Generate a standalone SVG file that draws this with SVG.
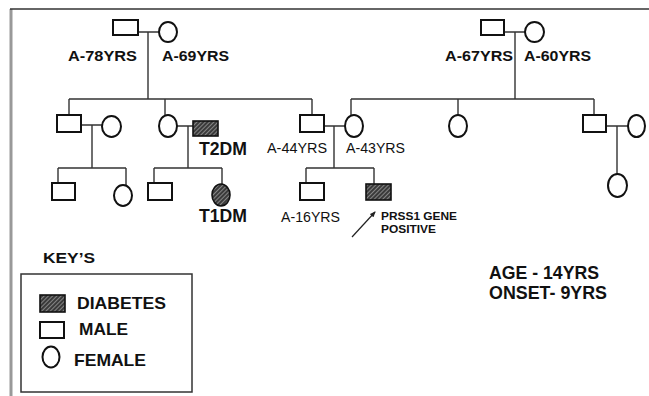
<svg xmlns="http://www.w3.org/2000/svg" width="649" height="396" viewBox="0 0 649 396">
<style>
.m{fill:#fff;stroke:#111;stroke-width:2}
.h{fill:url(#hatch);stroke:#111;stroke-width:1.6}
.c{fill:none;stroke:#333;stroke-width:1.4}
.b{font-family:"Liberation Sans",Arial,sans-serif;font-weight:bold;fill:#111}
.r{font-family:"Liberation Sans",Arial,sans-serif;fill:#111}
</style>
<defs>
<pattern id="hatch" patternUnits="userSpaceOnUse" width="3" height="3" patternTransform="rotate(45)">
<rect width="3" height="3" fill="#3a3a3a"/>
<line x1="0" y1="0" x2="0" y2="3" stroke="#cfcfcf" stroke-width="1"/>
</pattern>
<marker id="arr" markerWidth="6" markerHeight="6" refX="5" refY="3" orient="auto" markerUnits="userSpaceOnUse">
<path d="M0,0.5 L6,3 L0,5.5 Z" fill="#222"/>
</marker>
</defs>
<rect width="649" height="396" fill="#fff"/>
<g id="frame">
<line x1="11" y1="9" x2="11" y2="396" stroke="#999" stroke-width="3"/>
<line x1="10" y1="9" x2="649" y2="9" stroke="#333" stroke-width="1.6"/>
</g>
<g id="connectors" class="c">
<path d="M138,32 H159 M148,32 V99 M69,99 H312 M69,99 V115 M165,99 V115 M312,99 V115"/>
<path d="M504,32 H525 M515,32 V99 M351,99 H594 M351,99 V115 M458,99 V115 M594,99 V115"/>
<path d="M81,125 H102 M92,125 V168 M58,168 H126 M58,168 V183 M126,168 V185"/>
<path d="M177,126 H193 M188,126 V168 M154,168 H222 M154,168 V183 M222,168 V184"/>
<path d="M324,126 H345 M334,126 V168 M306,168 H374 M306,168 V183 M374,168 V184"/>
<path d="M606,126 H628 M617,126 V174"/>
<line x1="352" y1="237" x2="375" y2="212" stroke="#222" stroke-width="1.2" marker-end="url(#arr)"/>
</g>
<g id="gf1"><rect class="m" x="113" y="20" width="25" height="15"/><text class="b" x="68" y="61" font-size="15" textLength="69" lengthAdjust="spacingAndGlyphs">A-78YRS</text></g>
<g id="gm1"><ellipse class="m" cx="168" cy="32" rx="9" ry="10"/><text class="b" x="162" y="61" font-size="15" textLength="67" lengthAdjust="spacingAndGlyphs">A-69YRS</text></g>
<g id="gf2"><rect class="m" x="481" y="20" width="23" height="15"/><text class="b" x="445" y="61" font-size="15" textLength="68" lengthAdjust="spacingAndGlyphs">A-67YRS</text></g>
<g id="gm2"><ellipse class="m" cx="534.5" cy="32" rx="9.5" ry="10"/><text class="b" x="524" y="61" font-size="15" textLength="67" lengthAdjust="spacingAndGlyphs">A-60YRS</text></g>
<g id="s1"><rect class="m" x="57" y="115" width="24" height="17"/></g>
<g id="s1w"><ellipse class="m" cx="111.5" cy="126.5" rx="9.5" ry="10.5"/></g>
<g id="s1c1"><rect class="m" x="52" y="183" width="23" height="17"/></g>
<g id="s1c2"><ellipse class="m" cx="123" cy="195.5" rx="9" ry="10.5"/></g>
<g id="s2"><ellipse class="m" cx="168" cy="126" rx="9" ry="11"/></g>
<g id="s2h"><rect class="h" x="193" y="121" width="25" height="15"/><text class="b" x="199" y="155" font-size="18" textLength="48" lengthAdjust="spacingAndGlyphs">T2DM</text></g>
<g id="s2c1"><rect class="m" x="148" y="183" width="24" height="17"/></g>
<g id="s2c2"><ellipse class="h" cx="221" cy="195" rx="9" ry="11"/><text class="b" x="199" y="222" font-size="18" textLength="48" lengthAdjust="spacingAndGlyphs">T1DM</text></g>
<g id="father"><rect class="m" x="300" y="115" width="24" height="17"/><text class="r" x="267" y="153" font-size="14" textLength="60" lengthAdjust="spacingAndGlyphs">A-44YRS</text></g>
<g id="mother"><ellipse class="m" cx="354" cy="126" rx="9" ry="11"/><text class="r" x="346" y="153" font-size="14" textLength="59" lengthAdjust="spacingAndGlyphs">A-43YRS</text></g>
<g id="brother"><rect class="m" x="300" y="183" width="24" height="17"/><text class="r" x="281" y="222" font-size="14" textLength="59" lengthAdjust="spacingAndGlyphs">A-16YRS</text></g>
<g id="proband"><rect class="h" x="366" y="184" width="25" height="16"/><text class="b" x="381" y="220" font-size="11.5" textLength="76" lengthAdjust="spacingAndGlyphs">PRSS1 GENE</text><text class="b" x="381" y="233" font-size="11.5" textLength="55" lengthAdjust="spacingAndGlyphs">POSITIVE</text></g>
<g id="aunt"><ellipse class="m" cx="458" cy="126" rx="9" ry="11"/></g>
<g id="uncle"><rect class="m" x="583" y="115" width="23" height="17"/></g>
<g id="uncle_w"><ellipse class="m" cx="636.5" cy="126" rx="8.5" ry="11"/></g>
<g id="cousin"><ellipse class="m" cx="617.5" cy="185.5" rx="9.5" ry="11.5"/></g>
<g id="key">
<text class="b" x="43" y="263" font-size="15.5" textLength="52" lengthAdjust="spacingAndGlyphs">KEY’S</text>
<rect x="21" y="274" width="171" height="118" fill="none" stroke="#333" stroke-width="1.5"/>
<rect class="h" x="40" y="295" width="25" height="17"/>
<text class="b" x="77" y="309" font-size="16.5" textLength="89" lengthAdjust="spacingAndGlyphs">DIABETES</text>
<rect class="m" x="40" y="322" width="24" height="16"/>
<text class="b" x="79" y="335" font-size="16.5" textLength="49" lengthAdjust="spacingAndGlyphs">MALE</text>
<ellipse class="m" cx="51" cy="357" rx="8.5" ry="10.5"/>
<text class="b" x="74" y="366" font-size="16.5" textLength="72" lengthAdjust="spacingAndGlyphs">FEMALE</text>
</g>
<g id="info">
<text class="b" x="489" y="279" font-size="17.5" textLength="110" lengthAdjust="spacingAndGlyphs">AGE - 14YRS</text>
<text class="b" x="489" y="299" font-size="17.5" textLength="118" lengthAdjust="spacingAndGlyphs">ONSET- 9YRS</text>
</g>
</svg>
